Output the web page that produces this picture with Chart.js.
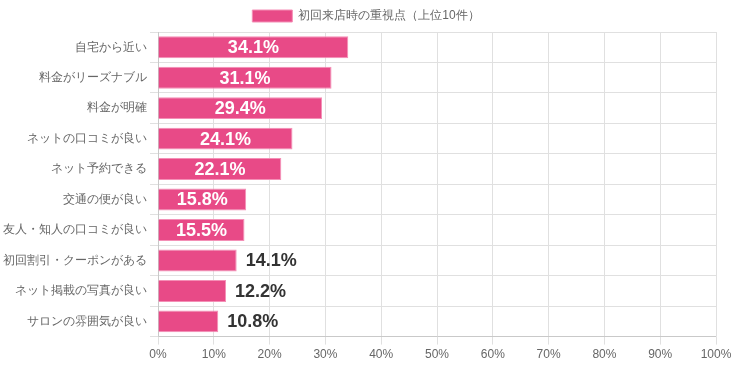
<!DOCTYPE html>
<html>
<head>
<meta charset="utf-8">
<script src="https://cdn.jsdelivr.net/npm/chart.js@4"></script>
<style>
  html, body { margin: 0; padding: 0; background: #fff; }
  #wrap { width: 735px; height: 367px; }
</style>
</head>
<body>
<div id="wrap"><canvas id="chart"></canvas></div>
<script>
const categories = [
    "自宅から近い", "料金がリーズナブル", "料金が明確", "ネットの口コミが良い", "ネット予約できる",
    "交通の便が良い", "友人・知人の口コミが良い", "初回割引・クーポンがある", "ネット掲載の写真が良い", "サロンの雰囲気が良い"
];
const values = [34.1, 31.1, 29.4, 24.1, 22.1, 15.8, 15.5, 14.1, 12.2, 10.8];
const seriesName = "初回来店時の重視点（上位10件）";

Chart.defaults.font.family = "'Liberation Sans', Arial, sans-serif";
Chart.defaults.color = "#666";

// draws the percent on each bar: inside when wide enough, else right of it
const valueLabels = {
    id: 'valueLabels',
    afterDatasetsDraw(chart) {
        const ctx = chart.ctx;
        const meta = chart.getDatasetMeta(0);
        ctx.save();
        ctx.font = "bold 18px 'Liberation Sans', Arial, sans-serif";
        ctx.textBaseline = 'middle';
        meta.data.forEach((bar, i) => {
            const text = values[i].toFixed(1) + '%';
            if (values[i] >= 15) {
                ctx.fillStyle = '#fff';
                ctx.textAlign = 'center';
                ctx.fillText(text, (bar.x + bar.base) / 2, bar.y + 1);
            } else {
                ctx.fillStyle = '#333';
                ctx.textAlign = 'left';
                ctx.fillText(text, bar.x + 9, bar.y + 1);
            }
        });
        ctx.restore();
    }
};

// nudge the legend so it sits centred on the whole canvas
const legendShift = {
    id: 'legendShift',
    afterLayout(chart) {
        chart.legend.left += 8;
        chart.legend.right += 8;
    }
};

new Chart(document.getElementById("chart"), {
    type: 'bar',
    data: {
        labels: categories,
        datasets: [{
            label: seriesName,
            data: values,
            backgroundColor: '#E84A87',
            borderColor: '#F48FB6',
            borderWidth: 1
        }]
    },
    options: {
        indexAxis: 'y',
        responsive: true,
        maintainAspectRatio: false,
        animation: false,
        layout: { padding: { right: 19, bottom: 2 } },
        plugins: {
            legend: {
                position: 'top',
                labels: { boxWidth: 40, boxHeight: 12, font: { size: 12 } }
            },
            tooltip: { enabled: false }
        },
        scales: {
            x: {
                min: 0, max: 100,
                ticks: { stepSize: 10, callback: v => v + '%', font: { size: 12 } },
                grid: { color: '#e0e0e0' }
            },
            y: {
                ticks: { font: { size: 12 } },
                grid: { color: '#e0e0e0' }
            }
        }
    },
    plugins: [valueLabels, legendShift]
});
</script>
</body>
</html>
